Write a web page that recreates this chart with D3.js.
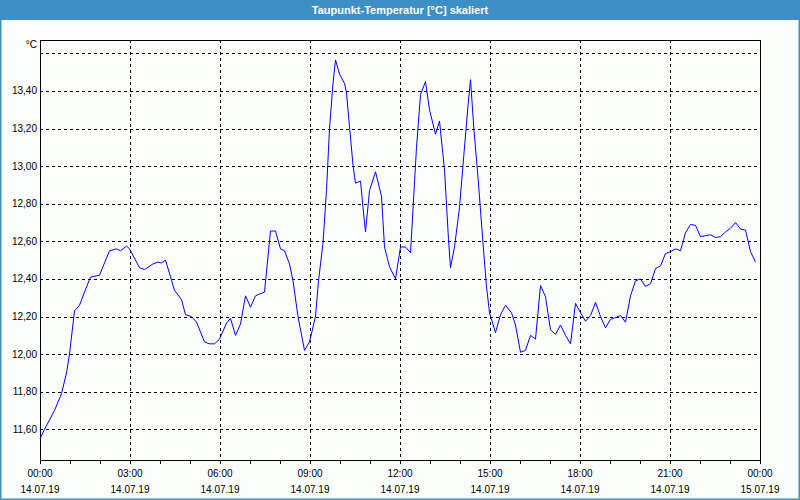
<!DOCTYPE html>
<html>
<head>
<meta charset="utf-8">
<script src="https://cdn.jsdelivr.net/npm/d3@7"></script>
<style>
  html, body { margin: 0; padding: 0; background: #ffffff; }
  svg { display: block; }
  text { font-family: "Liberation Sans", Arial, sans-serif; }
</style>
</head>
<body>
<svg id="chart" width="800" height="500"></svg>
<script>
const chartTitle = "Taupunkt-Temperatur [°C] skaliert";
const unitLabel = "°C";

// Sample times (HH:MM, 14.07.19) and dew-point values in °C
const times = [
  "00:00","00:09","00:29","00:43","00:53","00:59","01:09","01:19","01:29","01:41",
  "01:59","02:19","02:33","02:41","02:53","02:59","03:19","03:29","03:46","03:56",
  "04:03","04:11","04:29","04:43","04:51","05:03","05:13","05:29","05:39","05:49",
  "05:59","06:13","06:21","06:31","06:41","06:51","07:01","07:11","07:19","07:29",
  "07:41","07:51","08:01","08:09","08:19","08:26","08:36","08:49","08:59","09:11",
  "09:17","09:26","09:33","09:39","09:46","09:51","09:59","10:09","10:13","10:19",
  "10:26","10:31","10:41","10:46","10:51","10:59","11:11","11:23","11:29","11:39",
  "11:51","12:01","12:11","12:21","12:26","12:33","12:41","12:51","12:59","13:11",
  "13:19","13:29","13:37","13:41","13:49","13:59","14:08","14:16","14:21","14:28",
  "14:36","14:46","14:53","14:59","15:11","15:21","15:31","15:43","15:51","16:01",
  "16:11","16:21","16:31","16:41","16:51","17:01","17:11","17:21","17:31","17:41",
  "17:51","17:59","18:11","18:21","18:31","18:41","18:51","19:01","19:11","19:21",
  "19:31","19:41","19:51","20:01","20:11","20:21","20:31","20:41","20:51","21:01",
  "21:11","21:21","21:31","21:41","21:51","22:01","22:11","22:21","22:31","22:41",
  "22:51","23:01","23:11","23:21","23:31","23:41","23:51"
];
const values = [
  11.55,11.60,11.70,11.79,11.90,12.00,12.23,12.26,12.33,12.41,
  12.42,12.55,12.56,12.55,12.575,12.56,12.46,12.45,12.48,12.49,
  12.485,12.50,12.34,12.29,12.21,12.20,12.17,12.065,12.055,12.055,
  12.08,12.165,12.19,12.10,12.16,12.31,12.25,12.31,12.32,12.33,
  12.655,12.655,12.56,12.55,12.48,12.39,12.20,12.02,12.065,12.20,
  12.39,12.59,12.87,13.20,13.44,13.565,13.49,13.44,13.39,13.21,
  13.005,12.91,12.92,12.78,12.65,12.87,12.97,12.84,12.57,12.465,
  12.40,12.57,12.57,12.54,12.77,13.10,13.38,13.45,13.30,13.17,
  13.24,12.98,12.61,12.46,12.57,12.78,13.07,13.32,13.46,13.19,
  12.94,12.59,12.36,12.22,12.115,12.21,12.26,12.22,12.155,12.01,
  12.02,12.10,12.08,12.365,12.305,12.13,12.105,12.155,12.10,12.055,
  12.27,12.23,12.175,12.205,12.275,12.20,12.14,12.185,12.195,12.205,
  12.17,12.31,12.39,12.40,12.36,12.375,12.455,12.47,12.535,12.545,
  12.56,12.55,12.645,12.69,12.685,12.625,12.63,12.635,12.62,12.625,
  12.65,12.67,12.70,12.665,12.66,12.545,12.49
];

// Axis ticks
const yTickValues = [11.6, 11.8, 12.0, 12.2, 12.4, 12.6, 12.8, 13.0, 13.2, 13.4, 13.6];
const yLabelledTicks = [11.6, 11.8, 12.0, 12.2, 12.4, 12.6, 12.8, 13.0, 13.2, 13.4];
const xTickLabels = [
  ["00:00","14.07.19"],["03:00","14.07.19"],["06:00","14.07.19"],["09:00","14.07.19"],
  ["12:00","14.07.19"],["15:00","14.07.19"],["18:00","14.07.19"],["21:00","14.07.19"],
  ["00:00","15.07.19"]
];
const yDomain = [11.437, 13.671];

const W = 800, H = 500;
const margin = { left: 40, right: 40, top: 40, bottom: 40 };
const svg = d3.select("#chart");

const day0 = new Date(2019, 6, 14, 0, 0);
const day1 = new Date(2019, 6, 15, 0, 0);
const parseT = t => { const [h, m] = t.split(":").map(Number); return new Date(2019, 6, 14, h, m); };
const data = times.map((t, i) => ({ t: parseT(t), v: values[i] }));

const x = d3.scaleTime().domain([day0, day1]).range([margin.left, W - margin.right]);
const y = d3.scaleLinear().domain(yDomain).range([H - margin.bottom, margin.top]);

// Background + border
svg.append("rect").attr("x", 0).attr("y", 0).attr("width", W).attr("height", H).attr("fill", "#fbfdfb");
svg.append("rect").attr("x", 0).attr("y", 0).attr("width", W).attr("height", 20).attr("fill", "#3d8fc6");
svg.append("rect").attr("x", 0.5).attr("y", 0.5).attr("width", W - 1).attr("height", H - 1)
  .attr("fill", "none").attr("stroke", "#3d8fc6").attr("stroke-width", 2);

svg.append("text").attr("x", W / 2).attr("y", 14).attr("text-anchor", "middle")
  .attr("fill", "#ffffff").attr("font-size", 11).attr("font-weight", "bold").text(chartTitle);

// Grid
const grid = svg.append("g").attr("stroke", "#000").attr("stroke-width", 1).attr("stroke-dasharray", "3,3").attr("shape-rendering", "crispEdges");
grid.selectAll("line.h").data(yTickValues).join("line").attr("class", "h")
  .attr("x1", margin.left).attr("x2", W - margin.right)
  .attr("y1", d => Math.round(y(d)) + 0.5).attr("y2", d => Math.round(y(d)) + 0.5);
const vGrid = d3.timeHour.every(3).range(new Date(2019, 6, 14, 3), day1);
grid.selectAll("line.v").data(vGrid).join("line").attr("class", "v")
  .attr("x1", d => Math.round(x(d)) + 0.5).attr("x2", d => Math.round(x(d)) + 0.5)
  .attr("y1", margin.top).attr("y2", H - margin.bottom);

// X axis with hourly ticks
const xAxis = d3.axisBottom(x).ticks(d3.timeHour.every(1)).tickSize(4).tickFormat("");
const gx = svg.append("g").attr("transform", `translate(0,${H - margin.bottom})`).call(xAxis);
gx.select(".domain").remove();
gx.selectAll(".tick line").attr("stroke", "#000").attr("shape-rendering", "crispEdges");

const labelTimes = d3.timeHour.every(3).range(day0, new Date(2019, 6, 15, 0, 1));
labelTimes.forEach((d, i) => {
  const lx = x(d);
  svg.append("text").attr("x", lx).attr("y", 477).attr("text-anchor", "middle")
    .attr("font-size", 10).attr("fill", "#000").text(xTickLabels[i][0]);
  svg.append("text").attr("x", lx).attr("y", 493).attr("text-anchor", "middle")
    .attr("font-size", 10).attr("fill", "#000").text(xTickLabels[i][1]);
});

// Y labels
const fmt = d => d3.format(".2f")(d).replace(".", ",");
svg.selectAll("text.ylab").data(yLabelledTicks).join("text").attr("class", "ylab")
  .attr("x", 37).attr("y", d => y(d)).attr("dy", "0.35em").attr("text-anchor", "end")
  .attr("font-size", 10).attr("fill", "#000").text(fmt);
svg.append("text").attr("x", 37).attr("y", 48).attr("text-anchor", "end")
  .attr("font-size", 10).attr("fill", "#000").text(unitLabel);

// Frame
svg.append("rect").attr("x", margin.left + 0.5).attr("y", margin.top + 0.5)
  .attr("width", W - margin.left - margin.right).attr("height", H - margin.top - margin.bottom)
  .attr("fill", "none").attr("stroke", "#000").attr("stroke-width", 1).attr("shape-rendering", "crispEdges");

// Line
const line = d3.line().x(d => x(d.t)).y(d => y(d.v));
svg.append("path").datum(data).attr("d", line).attr("fill", "none")
  .attr("stroke", "#0000ff").attr("stroke-width", 1);
</script>
</body>
</html>
